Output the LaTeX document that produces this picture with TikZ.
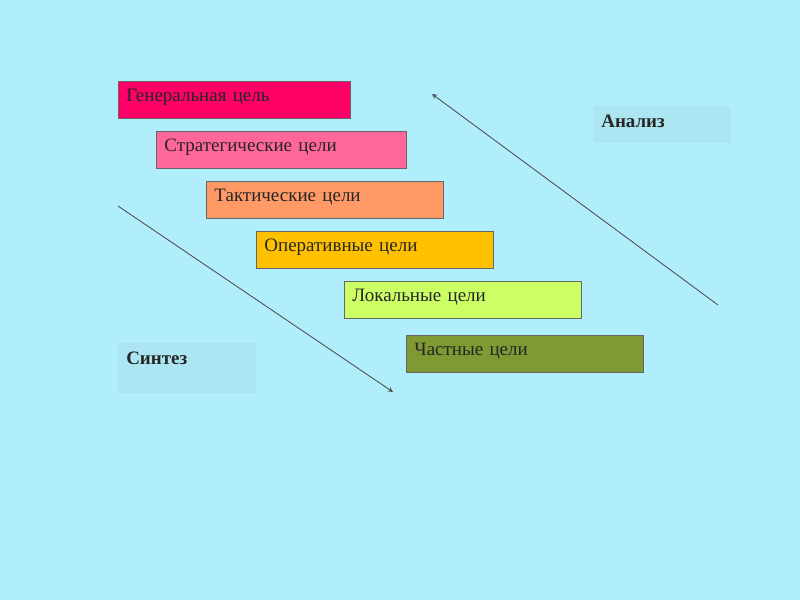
\documentclass[tikz,border=0pt]{standalone}
\usepackage{fontspec}
\setmainfont{Liberation Serif}
\usetikzlibrary{arrows,positioning}
\tikzset{>=stealth}
\definecolor{bgblue}{HTML}{B1EEFC}
\definecolor{labblue}{HTML}{ACE6F2}
\definecolor{goalA}{HTML}{FF0066}
\definecolor{goalB}{HTML}{FF6699}
\definecolor{goalC}{HTML}{FF9966}
\definecolor{goalD}{HTML}{FFC000}
\definecolor{goalE}{HTML}{CCFF66}
\definecolor{goalF}{HTML}{7F9A32}
\tikzset{
  goal/.style={draw=black!60, line width=.6pt, anchor=north west, align=left,
    inner xsep=.2cm, inner ysep=0pt, text height=.5cm, text depth=.425cm,
    text width=5.525cm, font=\fontsize{13.5}{15}\selectfont, text=black!85},
  lab/.style={fill=labblue, anchor=north west, align=left,
    inner xsep=.2cm, inner ysep=0pt, text height=.52cm,
    text width=3.05cm, font=\fontsize{13.5}{15}\selectfont\bfseries, text=black!85}
}
\begin{document}
\begin{tikzpicture}[x=.025cm, y=-.025cm]
        \fill [bgblue] (0, 0) rectangle (800, 600);
        \useasboundingbox (0, 0) rectangle (800, 600);
        % goals
        \node [goal, fill=goalA, text width=5.4cm] (gen) at (118, 81) {Генеральная цель};
        \node [goal, fill=goalB, text width=5.85cm] (strat) at (156, 131) {Стратегические цели};
        \node [goal, fill=goalC] (takt) at (206, 181) {Тактические цели};
        \node [goal, fill=goalD] (oper) at (256, 231) {Оперативные цели};
        \node [goal, fill=goalE] (lok) at (344, 281) {Локальные цели};
        \node [goal, fill=goalF] (chast) at (406, 335) {Частные цели};
        % labels
        \node [lab, text depth=.405cm] (analiz) at (593, 106) {Анализ};
        \node [lab, text depth=.73cm] (sintez) at (118, 343) {Синтез};
        % arrows
        \coordinate (s1) at (118, 206);
        \coordinate (s2) at (393, 392);
        \coordinate (a1) at (718, 305);
        \coordinate (a2) at (432, 94);
        \draw [->, black!70, line width=.6pt] (s1)--(s2);
        \draw [->, black!70, line width=.6pt] (a1)--(a2);
      \end{tikzpicture}
\end{document}
